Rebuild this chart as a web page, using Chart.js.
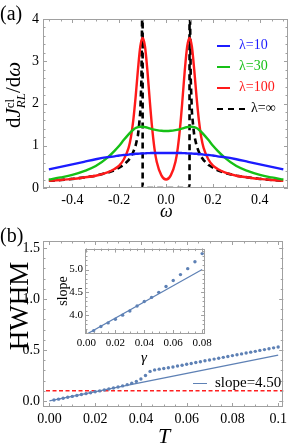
<!DOCTYPE html>
<html>
<head>
<meta charset="utf-8">
<script src="https://cdn.jsdelivr.net/npm/chart.js@4.4.0/dist/chart.umd.min.js"></script>
<style>
  body { margin: 0; width: 291px; height: 446px; position: relative; background: #fff; overflow: hidden;
         font-family: "Liberation Serif", "DejaVu Serif", serif; }
  canvas { position: absolute; }
  .t { position: absolute; white-space: nowrap; line-height: 1; }
  .rot { transform-origin: center center; transform: translate(-50%, -50%) rotate(-90deg); }
  .ss { display: inline-block; vertical-align: middle; line-height: 0.85; font-size: 0.62em; text-align: left; }
  .leg { position: absolute; font-size: 14px; line-height: 1; white-space: nowrap; }
  .leg span.l { display: inline-block; vertical-align: middle; width: 13px; margin-right: 9px; border-top: 2.5px solid; }
</style>
</head>
<body>
<canvas id="chartA" width="291" height="222" style="left:0;top:0"></canvas>
<canvas id="chartB" width="291" height="226" style="left:0;top:220px"></canvas>
<canvas id="chartC" width="175" height="130" style="left:40px;top:240px"></canvas>

<div class="t" style="left:0;top:3px;font-size:20px">(a)</div>
<div class="t" style="left:0;top:225px;font-size:20px">(b)</div>
<div class="t rot" style="left:15px;top:95px;font-size:21px;position:absolute">d<i>J</i><span class="ss">cl<br><i>RL</i></span>/d<i>ω</i></div>
<div class="t" style="left:160px;top:202px;font-size:18px"><i>ω</i></div>
<div class="t rot" style="left:19px;top:306px;font-size:27px;position:absolute">HWHM</div>
<div class="t" style="left:158px;top:425px;font-size:22px"><i>T</i></div>
<div class="t rot" style="left:63px;top:291px;font-size:14px;position:absolute">slope</div>
<div class="t" style="left:141px;top:350px;font-size:15px"><i>γ</i></div>
<div id="legA"></div>
<div class="leg" style="left:193px;top:375px;font-size:15px;color:#000"><span class="l" style="border-color:#5E81B5;border-top-width:1.2px;width:14px;margin-right:8px"></span>slope=4.50</div>

<script>
// ---- panel (a): spectral density, curves symmetric in omega (values read for omega >= 0)
const omegaHalf = [0, 0.02, 0.04, 0.05, 0.06, 0.07, 0.08, 0.09, 0.1, 0.11, 0.12, 0.13, 0.14, 0.15, 0.16, 0.18, 0.2, 0.22, 0.25, 0.3, 0.35, 0.4, 0.45, 0.5];
const lam10  = [0.83, 0.83, 0.83, 0.83, 0.83, 0.825, 0.825, 0.82, 0.82, 0.815, 0.81, 0.81, 0.80, 0.80, 0.79, 0.78, 0.77, 0.75, 0.73, 0.68, 0.62, 0.56, 0.50, 0.44];
const lam30  = [1.35, 1.355, 1.37, 1.38, 1.395, 1.41, 1.43, 1.44, 1.45, 1.45, 1.44, 1.42, 1.38, 1.33, 1.27, 1.14, 1.00, 0.88, 0.72, 0.52, 0.40, 0.31, 0.25, 0.20];
const lam100 = [0.2, 0.3, 0.62, 0.95, 1.45, 2.1, 2.8, 3.35, 3.55, 3.35, 2.8, 2.15, 1.6, 1.2, 0.95, 0.68, 0.53, 0.45, 0.37, 0.29, 0.25, 0.215, 0.19, 0.17];
// lambda = infinity: zero inside the gap |omega| < 0.1, diverging just outside it
const omegaInf = [0.1, 0.102, 0.105, 0.11, 0.115, 0.12, 0.13, 0.14, 0.15, 0.16, 0.18, 0.2, 0.22, 0.25, 0.3, 0.35, 0.4, 0.45, 0.5];
const lamInf   = [6, 4.2, 2.6, 1.8, 1.5, 1.25, 1.0, 0.85, 0.74, 0.66, 0.55, 0.48, 0.42, 0.36, 0.29, 0.25, 0.215, 0.19, 0.17];
const gapEdge = 0.1;

const seriesA = [
  { label: "λ=10",  values: lam10,  color: "#1c1cff" },
  { label: "λ=30",  values: lam30,  color: "#16c016" },
  { label: "λ=100", values: lam100, color: "#ff1a1a" },
];

// ---- panel (b): HWHM vs T
const tempT = [0.002, 0.004, 0.006, 0.008, 0.010, 0.012, 0.014, 0.016, 0.018, 0.020, 0.022, 0.024, 0.026, 0.028, 0.030, 0.032, 0.034, 0.036, 0.038, 0.040, 0.042, 0.044, 0.046, 0.048, 0.050,
               0.052, 0.054, 0.056, 0.058, 0.060, 0.062, 0.064, 0.066, 0.068, 0.070, 0.072, 0.074, 0.076, 0.078, 0.080, 0.082, 0.084, 0.086, 0.088, 0.090, 0.092, 0.094, 0.096, 0.098, 0.100];
const hwhm  = [0.009, 0.018, 0.027, 0.036, 0.045, 0.054, 0.063, 0.072, 0.081, 0.090, 0.099, 0.108, 0.118, 0.127, 0.137, 0.148, 0.160, 0.175, 0.192, 0.215, 0.250, 0.290, 0.305, 0.312, 0.318,
               0.326, 0.334, 0.343, 0.351, 0.360, 0.368, 0.377, 0.385, 0.394, 0.402, 0.411, 0.419, 0.428, 0.436, 0.445, 0.453, 0.462, 0.470, 0.479, 0.487, 0.496, 0.504, 0.513, 0.521, 0.530];
const fitT = [0, 0.1];
const fitHwhm = [0, 0.45];        // slope = 4.50
const refLevel = 0.1;             // red dashed level

// ---- inset: slope vs gamma
const gammaVals = [0.005, 0.010, 0.015, 0.020, 0.025, 0.030, 0.035, 0.040, 0.045, 0.050, 0.055, 0.060, 0.065, 0.070, 0.075, 0.080];
const slopeVals = [3.66, 3.75, 3.83, 3.91, 4.00, 4.09, 4.20, 4.30, 4.39, 4.50, 4.63, 4.76, 4.89, 5.02, 5.17, 5.35];
const slopeFitG = [0, 0.08];
const slopeFitV = [3.58, 5.00];

const FONT = '"Liberation Serif", "DejaVu Serif", serif';
const BLUE_M = "#5E81B5";

function mirror(ws, vs) {
  const left = ws.map((w, i) => ({ x: -w, y: vs[i] })).reverse();
  const right = ws.map((w, i) => ({ x: w, y: vs[i] }));
  return (ws[0] === 0 ? left.slice(0, -1) : left).concat(right);
}
function pts(xs, ys) { return xs.map((x, i) => ({ x, y: ys[i] })); }
function range(a, b, s) { const out = []; for (let v = a; v <= b + 1e-9; v += s) out.push(+v.toFixed(6)); return out; }

// Mathematica-like frame: box with inward ticks on all four sides
const frameTicks = {
  id: "frameTicks",
  beforeDatasetsDraw(chart, args, o) {
    if (!o.fill) return;
    const a = chart.chartArea, ctx = chart.ctx;
    ctx.save(); ctx.fillStyle = o.fill; ctx.fillRect(a.left, a.top, a.width, a.height); ctx.restore();
  },
  afterDatasetsDraw(chart, args, o) {
    const { ctx, chartArea: a, scales: { x, y } } = chart;
    ctx.save();
    ctx.strokeStyle = o.color || "#a0a0a0";
    ctx.lineWidth = 1;
    ctx.strokeRect(Math.round(a.left) + 0.5, Math.round(a.top) + 0.5, Math.round(a.width) - 1, Math.round(a.height) - 1);
    ctx.beginPath();
    const inX = v => v >= x.min - 1e-9 && v <= x.max + 1e-9;
    const inY = v => v >= y.min - 1e-9 && v <= y.max + 1e-9;
    const drawX = (vals, len) => vals.filter(inX).forEach(v => {
      const px = Math.round(x.getPixelForValue(v)) + 0.5;
      ctx.moveTo(px, a.bottom); ctx.lineTo(px, a.bottom - len);
      ctx.moveTo(px, a.top); ctx.lineTo(px, a.top + len);
    });
    const drawY = (vals, len) => vals.filter(inY).forEach(v => {
      const py = Math.round(y.getPixelForValue(v)) + 0.5;
      ctx.moveTo(a.left, py); ctx.lineTo(a.left + len, py);
      ctx.moveTo(a.right, py); ctx.lineTo(a.right - len, py);
    });
    drawX(o.xMajor, 4); drawX(o.xMinor, 2.5);
    drawY(o.yMajor, 4); drawY(o.yMinor, 2.5);
    ctx.stroke();
    ctx.restore();
  }
};

function axis(min, max, ticks, fmt, size, pad, fit, isX) {
  return {
    type: "linear", min, max,
    grid: { display: false, drawTicks: false },
    border: { display: false },
    ticks: { font: { family: FONT, size }, color: "#000", padding: pad, callback: fmt, autoSkip: false, maxRotation: 0 },
    afterBuildTicks: s => { s.ticks = ticks.map(v => ({ value: v })); },
    afterFit: s => { if (isX) s.height = fit; else s.width = fit; }
  };
}

const common = {
  responsive: false, animation: false, events: [],
  plugins: { legend: { display: false }, tooltip: { enabled: false } },
};

// ---------- panel (a)
const infData = mirror(omegaInf, lamInf);
const half = infData.length / 2;
const blackData = infData.slice(0, half).concat([{ x: -gapEdge, y: 0 }, { x: gapEdge, y: 0 }], infData.slice(half));

new Chart(document.getElementById("chartA"), {
  type: "line",
  data: {
    datasets: seriesA.map(s => ({
      label: s.label, data: mirror(omegaHalf, s.values), borderColor: s.color, borderWidth: 2.4,
      pointRadius: 0, cubicInterpolationMode: "monotone", fill: false
    })).concat([{
      label: "λ=∞", data: blackData, borderColor: "#000", borderWidth: 2.6, borderDash: [6, 4],
      pointRadius: 0, tension: 0, fill: false
    }])
  },
  options: {
    ...common,
    layout: { padding: { top: 19, right: 3, left: 0, bottom: 0 } },
    scales: {
      x: axis(-0.525, 0.52, [-0.4, -0.2, 0, 0.2, 0.4], v => (v === 0 ? "0.0" : v.toFixed(1)), 14, 4, 34, true),
      y: axis(0, 4, [0, 1, 2, 3, 4], v => String(v), 14, 4, 43, false)
    },
    plugins: {
      ...common.plugins,
      frameTicks: { xMajor: range(-0.4, 0.4, 0.2), xMinor: range(-0.5, 0.5, 0.05), yMajor: range(0, 4, 1), yMinor: range(0, 4, 0.2) }
    }
  },
  plugins: [frameTicks]
});

// legend (a) in HTML
const legA = document.getElementById("legA");
seriesA.concat([{ label: "λ=∞", color: "#000", dashed: true }]).forEach((s, i) => {
  const d = document.createElement("div");
  d.className = "leg";
  d.style.left = "217px";
  d.style.top = (38 + i * 21) + "px";
  d.style.color = s.color;
  const line = s.dashed
    ? '<span class="l" style="width:28px;margin-right:6px;border-top:2.6px dashed #000"></span>'
    : '<span class="l" style="border-color:' + s.color + '"></span>';
  d.innerHTML = line + s.label;
  legA.appendChild(d);
});

// ---------- panel (b)
new Chart(document.getElementById("chartB"), {
  type: "line",
  data: {
    datasets: [
      { data: pts(tempT, hwhm), showLine: false, pointRadius: 1.7, pointBackgroundColor: BLUE_M, pointBorderWidth: 0 },
      { data: pts(fitT, fitHwhm), borderColor: BLUE_M, borderWidth: 1.3, pointRadius: 0 },
      { data: pts([-0.01, 0.11], [refLevel, refLevel]), borderColor: "#ff2020", borderWidth: 1.5, borderDash: [4, 2.5], pointRadius: 0 }
    ]
  },
  options: {
    ...common,
    layout: { padding: { top: 21, right: 4, left: 0, bottom: 0 } },
    scales: {
      x: axis(-0.0028, 0.1022, [0, 0.02, 0.04, 0.06, 0.08, 0.1], v => (v === 0.1 ? "0.1" : v.toFixed(2)), 14, 4, 39, true),
      y: axis(-0.059, 1.569, [0, 0.5, 1, 1.5], v => v.toFixed(1), 14, 3, 43, false)
    },
    plugins: {
      ...common.plugins,
      frameTicks: { xMajor: range(0, 0.1, 0.02), xMinor: range(0, 0.1, 0.005), yMajor: range(0, 1.5, 0.5), yMinor: range(0, 1.5, 0.1) }
    }
  },
  plugins: [frameTicks]
});

// ---------- inset
new Chart(document.getElementById("chartC"), {
  type: "line",
  data: {
    datasets: [
      { data: pts(gammaVals, slopeVals), showLine: false, pointRadius: 1.7, pointBackgroundColor: BLUE_M, pointBorderWidth: 0 },
      { data: pts(slopeFitG, slopeFitV), borderColor: BLUE_M, borderWidth: 1.2, pointRadius: 0 }
    ]
  },
  options: {
    ...common,
    layout: { padding: { top: 8, right: 8, left: 0, bottom: 0 } },
    scales: {
      x: axis(-0.001, 0.082, [0, 0.02, 0.04, 0.06, 0.08], v => v.toFixed(2), 11, 3, 36, true),
      y: axis(3.587, 5.46, [4, 4.5, 5], v => v.toFixed(1), 11, 2, 45, false)
    },
    plugins: {
      ...common.plugins,
      frameTicks: { fill: "#fff", xMajor: range(0, 0.08, 0.02), xMinor: range(0, 0.08, 0.005), yMajor: range(4, 5, 0.5), yMinor: range(3.6, 5.4, 0.1) }
    }
  },
  plugins: [frameTicks]
});
</script>
</body>
</html>
